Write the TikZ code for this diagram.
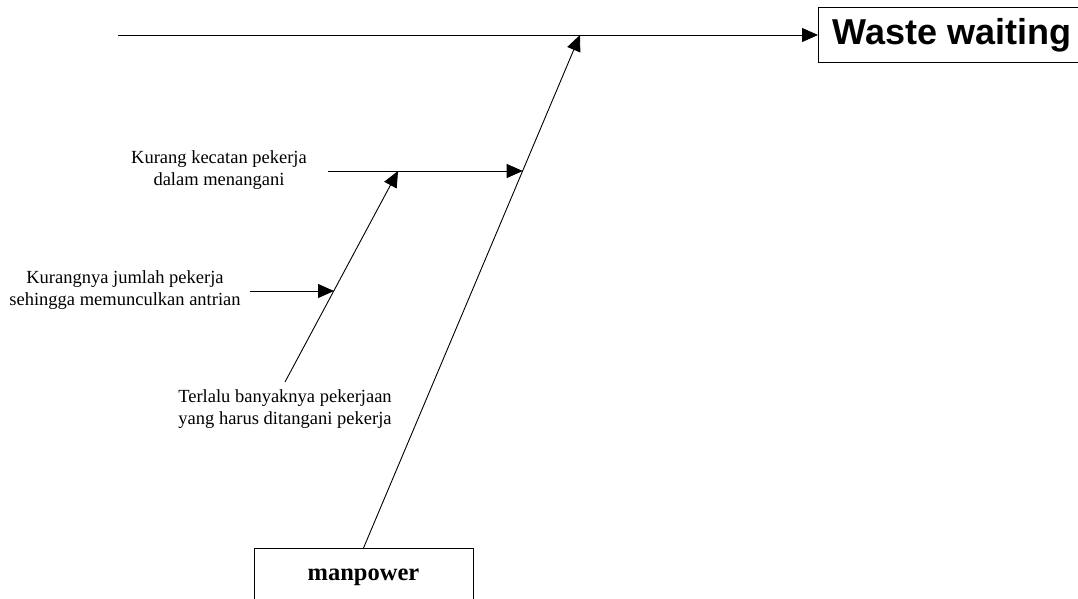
\documentclass[tikz,border=0pt]{standalone}
\usepackage{fontspec}
\setmainfont{Liberation Serif}
\newfontfamily\headfont{Liberation Sans}
\usetikzlibrary{arrows.meta}
\begin{document}
\begin{tikzpicture}[x=1pt,y=-1pt,
  bone/.style={line width=0.9pt},
  arrowbone/.style={bone,-{Triangle[length=16pt,width=14pt]}},
  cause/.style={align=center,font=\fontsize{18.5}{21.5}\selectfont,inner sep=0pt},
  effectbox/.style={draw,line width=0.9pt,anchor=west,minimum height=55pt,inner xsep=14pt,
    font=\headfont\bfseries\fontsize{36}{40}\selectfont},
  categorybox/.style={draw,line width=0.9pt,anchor=north,minimum width=219pt,minimum height=58pt,
    font=\bfseries\fontsize{24.5}{28}\selectfont}
]
\useasboundingbox (0,0) rectangle (1078,599);
\clip (0,0) rectangle (1078,599);

% effect and category boxes
\node[effectbox] (waste) at (818,35) {Waste waiting};
\node[categorybox] (mp) at (363.5,548) {manpower};

% main spine and main bone
\coordinate (spine) at (118,35);
\coordinate (j1) at (580,35);
\coordinate (j2) at (522.7,171);
\draw[bone] (spine) -- (j1);
\draw[arrowbone] (j1) -- (waste.west |- j1);
\draw[arrowbone] (mp.north) -- (j1);

% cause labels
\node[cause] (c1) at (219,170) {Kurang kecatan pekerja\\dalam menangani};
\node[cause] (c2) at (125,290) {Kurangnya jumlah pekerja\\sehingga memunculkan antrian};
\node[cause] (c3) at (285,409) {Terlalu banyaknya pekerjaan\\yang harus ditangani pekerja};

% sub bones
\coordinate (c1s) at (328,171);
\coordinate (k1) at (398,171);
\coordinate (c2s) at (250,291);
\coordinate (k2) at (334,291);
\coordinate (c3s) at (285,382);
\draw[arrowbone] (c1s) -- (j2);
\draw[arrowbone] (c3s) -- (k1);
\draw[arrowbone] (c2s) -- (k2);
\end{tikzpicture}
\end{document}
